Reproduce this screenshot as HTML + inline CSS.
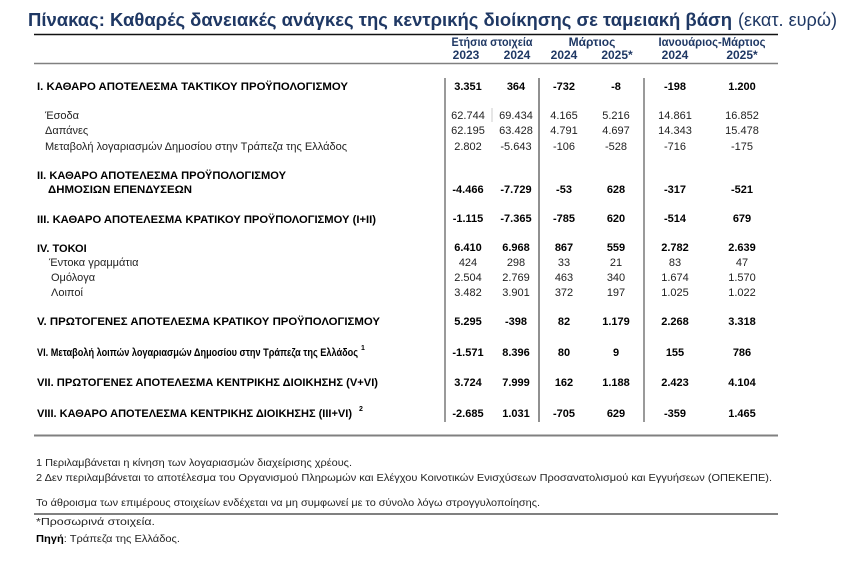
<!DOCTYPE html>
<html>
<head>
<meta charset="utf-8">
<style>
html,body{margin:0;padding:0;background:#fff;width:860px;height:577px;overflow:hidden;}
svg{display:block;}
text{font-family:"Liberation Sans","DejaVu Sans",sans-serif;}
.t{font-size:18px;fill:#1f3864;}
.h{font-size:12px;font-weight:bold;fill:#1f3864;text-anchor:middle;}
.lb{font-size:11px;font-weight:bold;fill:#000;}
.lr{font-size:11px;fill:#222;}
.nb{font-size:11px;font-weight:bold;fill:#000;text-anchor:middle;}
.nr{font-size:11px;fill:#222;text-anchor:middle;}
.f{font-size:10.5px;fill:#222;}
.sup{font-size:7px;font-weight:bold;fill:#000;}
</style>
</head>
<body>
<svg width="860" height="577" viewBox="0 0 860 577" xmlns="http://www.w3.org/2000/svg">
<!-- Title -->
<text class="t" x="28" y="26" font-weight="bold" textLength="704" lengthAdjust="spacingAndGlyphs">Πίνακας: Καθαρές δανειακές ανάγκες της κεντρικής διοίκησης σε ταμειακή βάση</text>
<text class="t" x="738" y="26" textLength="99" lengthAdjust="spacingAndGlyphs">(εκατ. ευρώ)</text>
<line x1="34" y1="34.5" x2="778" y2="34.5" stroke="#111" stroke-width="1.5"/>

<!-- Header -->
<text class="h" x="492" y="46" textLength="81" lengthAdjust="spacingAndGlyphs">Ετήσια στοιχεία</text>
<text class="h" x="592" y="46">Μάρτιος</text>
<text class="h" x="712" y="46" textLength="107" lengthAdjust="spacingAndGlyphs">Ιανουάριος-Μάρτιος</text>
<text class="h" x="466" y="59">2023</text>
<text class="h" x="517" y="59">2024</text>
<text class="h" x="564" y="59">2024</text>
<text class="h" x="617" y="59">2025*</text>
<text class="h" x="675" y="59">2024</text>
<text class="h" x="742" y="59">2025*</text>
<line x1="34" y1="63.5" x2="778" y2="63.5" stroke="#808080" stroke-width="1.6"/>

<!-- Vertical lines -->
<line x1="445" y1="78" x2="445" y2="422" stroke="#9a9a9a" stroke-width="2"/>
<line x1="539" y1="78" x2="539" y2="422" stroke="#222" stroke-width="1"/>
<line x1="644" y1="78" x2="644" y2="422" stroke="#9a9a9a" stroke-width="2"/>
<line x1="492" y1="108" x2="492" y2="122" stroke="#ccc" stroke-width="1"/>

<!-- Labels -->
<text class="lb" x="37" y="90" textLength="311" lengthAdjust="spacingAndGlyphs">I. ΚΑΘΑΡΟ ΑΠΟΤΕΛΕΣΜΑ  ΤΑΚΤΙΚΟΥ ΠΡΟΫΠΟΛΟΓΙΣΜΟΥ</text>
<text class="lr" x="45" y="119">Έσοδα</text>
<text class="lr" x="45" y="134">Δαπάνες</text>
<text class="lr" x="45" y="150" textLength="302" lengthAdjust="spacingAndGlyphs">Μεταβολή λογαριασμών Δημοσίου στην Τράπεζα της Ελλάδος</text>
<text class="lb" x="37" y="179" textLength="249" lengthAdjust="spacingAndGlyphs">II. ΚΑΘΑΡΟ ΑΠΟΤΕΛΕΣΜΑ ΠΡΟΫΠΟΛΟΓΙΣΜΟΥ</text>
<text class="lb" x="48" y="193" textLength="144" lengthAdjust="spacingAndGlyphs">ΔΗΜΟΣΙΩΝ ΕΠΕΝΔΥΣΕΩΝ</text>
<text class="lb" x="37" y="223" textLength="339" lengthAdjust="spacingAndGlyphs">III. ΚΑΘΑΡΟ ΑΠΟΤΕΛΕΣΜΑ ΚΡΑΤΙΚΟΥ ΠΡΟΫΠΟΛΟΓΙΣΜΟΥ (I+II)</text>
<text class="lb" x="37" y="252">IV. ΤΟΚΟΙ</text>
<text class="lr" x="49" y="266">Έντοκα γραμμάτια</text>
<text class="lr" x="51" y="281">Ομόλογα</text>
<text class="lr" x="51" y="296">Λοιποί</text>
<text class="lb" x="37" y="325" textLength="343" lengthAdjust="spacingAndGlyphs">V. ΠΡΩΤΟΓΕΝΕΣ ΑΠΟΤΕΛΕΣΜΑ  ΚΡΑΤΙΚΟΥ ΠΡΟΫΠΟΛΟΓΙΣΜΟΥ</text>
<text class="lb" x="37" y="356" textLength="321" lengthAdjust="spacingAndGlyphs">VI. Μεταβολή λοιπών λογαριασμών Δημοσίου στην Τράπεζα της Ελλάδος</text>
<text class="sup" x="361" y="350">1</text>
<text class="lb" x="37" y="386" textLength="341" lengthAdjust="spacingAndGlyphs">VII. ΠΡΩΤΟΓΕΝΕΣ ΑΠΟΤΕΛΕΣΜΑ ΚΕΝΤΡΙΚΗΣ ΔΙΟΙΚΗΣΗΣ (V+VI)</text>
<text class="lb" x="37" y="417" textLength="315" lengthAdjust="spacingAndGlyphs">VIII. ΚΑΘΑΡΟ ΑΠΟΤΕΛΕΣΜΑ ΚΕΝΤΡΙΚΗΣ ΔΙΟΙΚΗΣΗΣ (III+VI)</text>
<text class="sup" x="359" y="411">2</text>

<!-- Numbers -->
<text class="nb" x="468" y="90">3.351</text><text class="nb" x="516" y="90">364</text><text class="nb" x="564" y="90">-732</text><text class="nb" x="616" y="90">-8</text><text class="nb" x="675" y="90">-198</text><text class="nb" x="742" y="90">1.200</text>
<text class="nr" x="468" y="119">62.744</text><text class="nr" x="516" y="119">69.434</text><text class="nr" x="564" y="119">4.165</text><text class="nr" x="616" y="119">5.216</text><text class="nr" x="675" y="119">14.861</text><text class="nr" x="742" y="119">16.852</text>
<text class="nr" x="468" y="134">62.195</text><text class="nr" x="516" y="134">63.428</text><text class="nr" x="564" y="134">4.791</text><text class="nr" x="616" y="134">4.697</text><text class="nr" x="675" y="134">14.343</text><text class="nr" x="742" y="134">15.478</text>
<text class="nr" x="468" y="150">2.802</text><text class="nr" x="516" y="150">-5.643</text><text class="nr" x="564" y="150">-106</text><text class="nr" x="616" y="150">-528</text><text class="nr" x="675" y="150">-716</text><text class="nr" x="742" y="150">-175</text>

<text class="nb" x="468" y="193">-4.466</text><text class="nb" x="516" y="193">-7.729</text><text class="nb" x="564" y="193">-53</text><text class="nb" x="616" y="193">628</text><text class="nb" x="675" y="193">-317</text><text class="nb" x="742" y="193">-521</text>
<text class="nb" x="468" y="222">-1.115</text><text class="nb" x="516" y="222">-7.365</text><text class="nb" x="564" y="222">-785</text><text class="nb" x="616" y="222">620</text><text class="nb" x="675" y="222">-514</text><text class="nb" x="742" y="222">679</text>
<text class="nb" x="468" y="251">6.410</text><text class="nb" x="516" y="251">6.968</text><text class="nb" x="564" y="251">867</text><text class="nb" x="616" y="251">559</text><text class="nb" x="675" y="251">2.782</text><text class="nb" x="742" y="251">2.639</text>
<text class="nr" x="468" y="266">424</text><text class="nr" x="516" y="266">298</text><text class="nr" x="564" y="266">33</text><text class="nr" x="616" y="266">21</text><text class="nr" x="675" y="266">83</text><text class="nr" x="742" y="266">47</text>
<text class="nr" x="468" y="281">2.504</text><text class="nr" x="516" y="281">2.769</text><text class="nr" x="564" y="281">463</text><text class="nr" x="616" y="281">340</text><text class="nr" x="675" y="281">1.674</text><text class="nr" x="742" y="281">1.570</text>
<text class="nr" x="468" y="296">3.482</text><text class="nr" x="516" y="296">3.901</text><text class="nr" x="564" y="296">372</text><text class="nr" x="616" y="296">197</text><text class="nr" x="675" y="296">1.025</text><text class="nr" x="742" y="296">1.022</text>
<text class="nb" x="468" y="325">5.295</text><text class="nb" x="516" y="325">-398</text><text class="nb" x="564" y="325">82</text><text class="nb" x="616" y="325">1.179</text><text class="nb" x="675" y="325">2.268</text><text class="nb" x="742" y="325">3.318</text>
<text class="nb" x="468" y="356">-1.571</text><text class="nb" x="516" y="356">8.396</text><text class="nb" x="564" y="356">80</text><text class="nb" x="616" y="356">9</text><text class="nb" x="675" y="356">155</text><text class="nb" x="742" y="356">786</text>
<text class="nb" x="468" y="386">3.724</text><text class="nb" x="516" y="386">7.999</text><text class="nb" x="564" y="386">162</text><text class="nb" x="616" y="386">1.188</text><text class="nb" x="675" y="386">2.423</text><text class="nb" x="742" y="386">4.104</text>
<text class="nb" x="468" y="417">-2.685</text><text class="nb" x="516" y="417">1.031</text><text class="nb" x="564" y="417">-705</text><text class="nb" x="616" y="417">629</text><text class="nb" x="675" y="417">-359</text><text class="nb" x="742" y="417">1.465</text>

<line x1="34" y1="435.5" x2="778" y2="435.5" stroke="#808080" stroke-width="2"/>

<!-- Footnotes -->
<text class="f" x="36" y="466" textLength="316" lengthAdjust="spacingAndGlyphs">1 Περιλαμβάνεται η κίνηση των λογαριασμών διαχείρισης χρέους.</text>
<text class="f" x="36" y="481" textLength="736" lengthAdjust="spacingAndGlyphs">2 Δεν περιλαμβάνεται το αποτέλεσμα του Οργανισμού Πληρωμών και Ελέγχου Κοινοτικών Ενισχύσεων Προσανατολισμού και Εγγυήσεων (ΟΠΕΚΕΠΕ).</text>
<text class="f" x="36" y="506" textLength="504" lengthAdjust="spacingAndGlyphs">Το άθροισμα των επιμέρους στοιχείων ενδέχεται να μη συμφωνεί με το σύνολο λόγω στρογγυλοποίησης.</text>
<line x1="34" y1="514" x2="778" y2="514" stroke="#808080" stroke-width="2"/>
<text class="f" x="36" y="525" textLength="119" lengthAdjust="spacingAndGlyphs">*Προσωρινά στοιχεία.</text>
<text class="f" x="36" y="542" textLength="144" lengthAdjust="spacingAndGlyphs"><tspan font-weight="bold" fill="#000">Πηγή</tspan>: Τράπεζα της Ελλάδος.</text>
</svg>
</body>
</html>
